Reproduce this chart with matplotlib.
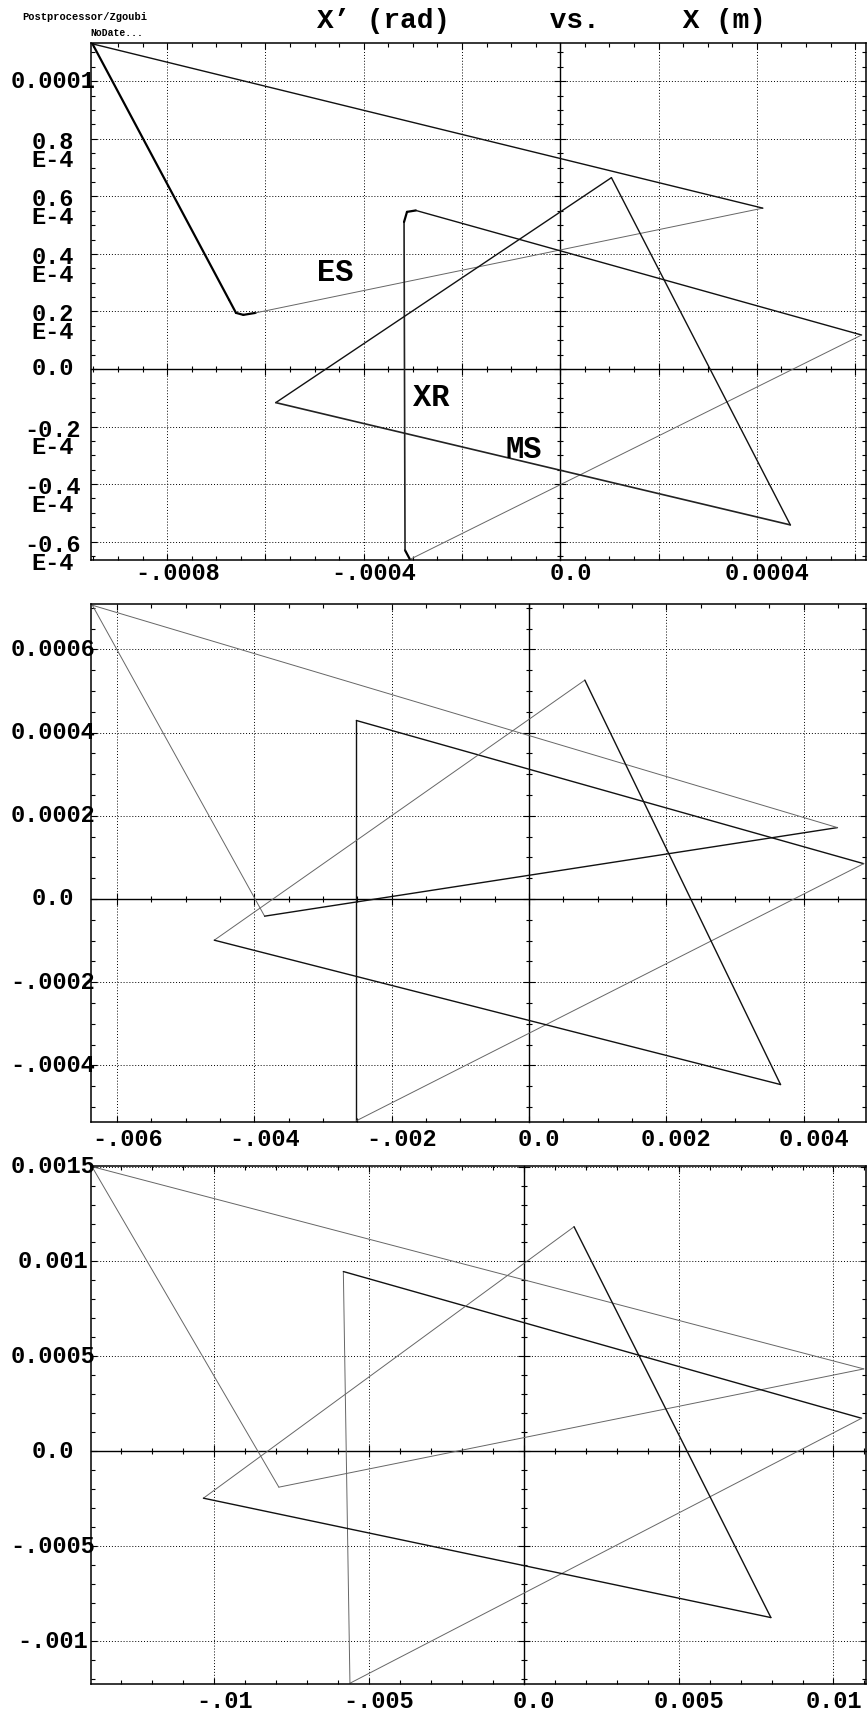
import numpy as np
import matplotlib
matplotlib.use('Agg')
import matplotlib.pyplot as plt
import matplotlib.transforms as mtransforms
from matplotlib.ticker import MultipleLocator

plt.rcParams['font.family'] = ['Liberation Mono', 'DejaVu Sans Mono']
plt.rcParams['font.weight'] = 'bold'

# --- page 1 : X' vs X, three triangles (ES / XR / MS) ---
p1_es_x = [-0.000952, -0.000674, -0.000660, -0.000645, -0.000620, 0.000412, -0.000952]
p1_es_y = [1.13e-4, 2.40e-5, 1.95e-5, 1.88e-5, 1.95e-5, 5.59e-5, 1.13e-4]
p1_xr_x = [-0.000306, -0.000316, -0.000318, -0.000312, -0.000294, 0.000613, -0.000306]
p1_xr_y = [-6.62e-5, -6.30e-5, 5.11e-5, 5.46e-5, 5.51e-5, 1.18e-5, -6.62e-5]
p1_ms_x = [-0.000579, 0.000104, 0.000468, -0.000579]
p1_ms_y = [-1.17e-5, 6.65e-5, -5.42e-5, -1.17e-5]

p1_xticks = [-0.0008, -0.0006, -0.0004, -0.0002, 0.0, 0.0002, 0.0004, 0.0006]
p1_xlabels = {-0.0008: '-.0008', -0.0004: '-.0004', 0.0: '0.0', 0.0004: '0.0004'}
p1_yticks = [-0.6e-4, -0.4e-4, -0.2e-4, 0.0, 0.2e-4, 0.4e-4, 0.6e-4, 0.8e-4, 1.0e-4]
p1_ylabels = ['-0.6\nE-4', '-0.4\nE-4', '-0.2\nE-4', '0.0', '0.2\nE-4', '0.4\nE-4',
              '0.6\nE-4', '0.8\nE-4', '0.0001']

# --- page 2 ---
p2_es_x = [-0.00636, -0.003851, 0.004494, -0.00636]
p2_es_y = [0.000706, -0.0000413, 0.0001716, 0.000706]
p2_xr_x = [-0.002514, -0.002514, 0.004876, -0.002514]
p2_xr_y = [-0.000533, 0.000429, 0.0000849, -0.000533]
p2_ms_x = [-0.004584, 0.000814, 0.003665, -0.004584]
p2_ms_y = [-0.000099, 0.000526, -0.000446, -0.000099]

p2_xticks = [-0.006, -0.004, -0.002, 0.0, 0.002, 0.004]
p2_xlabels = {-0.006: '-.006', -0.004: '-.004', -0.002: '-.002', 0.0: '0.0',
              0.002: '0.002', 0.004: '0.004'}
p2_yticks = [-0.0004, -0.0002, 0.0, 0.0002, 0.0004, 0.0006]
p2_ylabels = ['-.0004', '-.0002', '0.0', '0.0002', '0.0004', '0.0006']

# --- page 3 ---
p3_es_x = [-0.01395, -0.007913, 0.010979, -0.01395]
p3_es_y = [0.0015, -0.000189, 0.000434, 0.0015]
p3_xr_x = [-0.005617, -0.00583, 0.010907, -0.005617]
p3_xr_y = [-0.001222, 0.000947, 0.000174, -0.001222]
p3_ms_x = [-0.010349, 0.001621, 0.007978, -0.010349]
p3_ms_y = [-0.000247, 0.001183, -0.000876, -0.000247]

p3_xticks = [-0.01, -0.005, 0.0, 0.005, 0.01]
p3_xlabels = {-0.01: '-.01', -0.005: '-.005', 0.0: '0.0', 0.005: '0.005', 0.01: '0.01'}
p3_yticks = [-0.001, -0.0005, 0.0, 0.0005, 0.001, 0.0015]
p3_ylabels = ['-.001', '-.0005', '0.0', '0.0005', '0.001', '0.0015']

# line styles per segment: D = dense (dark), F = faint
D1 = ('#000000', 1.6)
D = ('#111111', 1.0)
M = ('#222222', 1.2)
F = ('#666666', 0.7)

W, H = 867, 1714
fig = plt.figure(figsize=(W / 100, H / 100), dpi=100)

# axes boxes in pixels: left, top, right, bottom
boxes = [(91, 43, 866, 560), (91, 604, 866, 1122), (91, 1166, 866, 1684)]
xlims = [(-0.000955, 0.000622), (-0.00638, 0.00491), (-0.01398, 0.01105)]
ylims = [(-6.64e-5, 1.133e-4), (-0.000536, 0.000709), (-0.001226, 0.001503)]
xminor = [0.00005, 0.0005, 0.001]
yminor = [0.5e-5, 0.00005, 0.0001]
xlab_pad = [14, 17, 17]

curves = [
    [(p1_es_x, p1_es_y, [D1, D1, D1, D1, F, D]),
     (p1_xr_x, p1_xr_y, [D1, M, D1, D1, D, F]),
     (p1_ms_x, p1_ms_y, [D, D, M])],
    [(p2_es_x, p2_es_y, [F, D, F]),
     (p2_xr_x, p2_xr_y, [D, D, F]),
     (p2_ms_x, p2_ms_y, [F, D, D])],
    [(p3_es_x, p3_es_y, [F, F, F]),
     (p3_xr_x, p3_xr_y, [F, D, F]),
     (p3_ms_x, p3_ms_y, [F, D, D])],
]
xticks = [p1_xticks, p2_xticks, p3_xticks]
xlabels = [p1_xlabels, p2_xlabels, p3_xlabels]
yticks = [p1_yticks, p2_yticks, p3_yticks]
ylabels = [p1_ylabels, p2_ylabels, p3_ylabels]

for i in range(3):
    l, t, r, b = boxes[i]
    ax = fig.add_axes([l / W, 1 - b / H, (r - l) / W, (b - t) / H])
    ax.set_xlim(*xlims[i])
    ax.set_ylim(*ylims[i])
    ax.set_xticks(xticks[i])
    ax.set_yticks(yticks[i])
    ax.xaxis.set_minor_locator(MultipleLocator(xminor[i]))
    ax.yaxis.set_minor_locator(MultipleLocator(yminor[i]))
    ax.tick_params(which='both', direction='in', top=True, right=True,
                   labelbottom=False, labelleft=False, width=0.8)
    ax.tick_params(which='major', length=4)
    ax.tick_params(which='minor', length=3.2)
    ax.grid(which='major', color='k', lw=0.7, ls=(0, (1, 2)))
    for s in ax.spines.values():
        s.set_linewidth(1.1)

    for xs, ys, styles in curves[i]:
        for k, (c, lw) in enumerate(styles):
            ax.plot(xs[k:k + 2], ys[k:k + 2], color=c, lw=lw,
                    solid_capstyle='round', solid_joinstyle='round')

    # zero lines with their own tick marks
    y0 = -ylims[i][0] / (ylims[i][1] - ylims[i][0])
    x0 = -xlims[i][0] / (xlims[i][1] - xlims[i][0])
    sx = ax.secondary_xaxis(y0)
    sx.set_xticks(xticks[i])
    sx.xaxis.set_minor_locator(MultipleLocator(xminor[i]))
    sx.tick_params(which='both', direction='inout', labelbottom=False, labeltop=False, width=0.8)
    sx.tick_params(which='major', length=9)
    sx.tick_params(which='minor', length=5)
    sy = ax.secondary_yaxis(x0)
    sy.set_yticks(yticks[i])
    sy.yaxis.set_minor_locator(MultipleLocator(yminor[i]))
    sy.tick_params(which='both', direction='inout', labelleft=False, labelright=False, width=0.8)
    sy.tick_params(which='major', length=9)
    sy.tick_params(which='minor', length=5)
    for sa in (sx, sy):
        for s in sa.spines.values():
            s.set_linewidth(1.0)

    # tick labels
    xtr = ax.get_xaxis_transform()
    for v, txt in xlabels[i].items():
        dx = 0 if v == max(xlabels[i]) and i == 2 else 10
        ax.annotate(txt, xy=(v, 0), xycoords=xtr, xytext=(dx, -xlab_pad[i]),
                    textcoords='offset pixels', ha='center', va='center', fontsize=17)
    ytr = mtransforms.blended_transform_factory(fig.transFigure, ax.transData)
    for v, txt in zip(yticks[i], ylabels[i]):
        if '\n' in txt:
            ax.annotate(txt, xy=(53 / W, v), xycoords=ytr, xytext=(0, 8),
                        textcoords='offset pixels', ha='center', va='top',
                        multialignment='center', linespacing=0.72, fontsize=17)
        else:
            ax.annotate(txt, xy=(53 / W, v), xycoords=ytr, xytext=(0, 0),
                        textcoords='offset pixels', ha='center', va='center', fontsize=17)

    if i == 0:
        ax.text(-0.000459, 3.34e-5, 'ES', fontsize=22, ha='center', va='center')
        ax.text(-0.000262, -1.0e-5, 'XR', fontsize=22, ha='center', va='center')
        ax.text(-0.0000743, -2.83e-5, 'MS', fontsize=22, ha='center', va='center')

fig.text(22 / W, 1 - 17 / H, 'Postprocessor/Zgoubi', fontsize=7.5, ha='left', va='center')
fig.text(90 / W, 1 - 33 / H, 'NoDate...', fontsize=7, ha='left', va='center')
fig.text(317 / W, 1 - 21 / H, 'X\u2019 (rad)' + ' ' * 6 + 'vs.' + ' ' * 5 + 'X (m)',
         fontsize=20, ha='left', va='center')

fig.savefig('out.png', dpi=100, facecolor='white')
